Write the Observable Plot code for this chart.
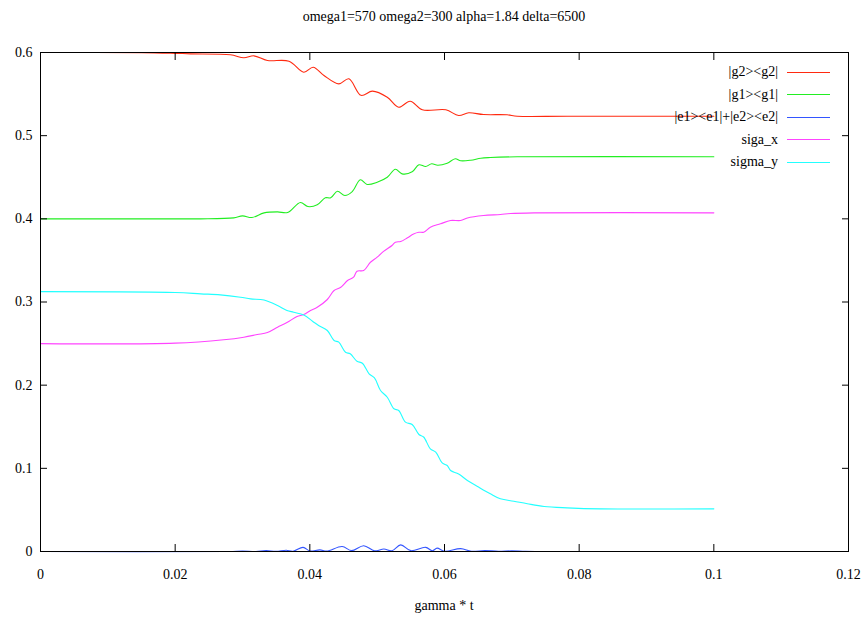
<!DOCTYPE html>
<html><head><meta charset="utf-8">
<script src="https://cdn.jsdelivr.net/npm/d3@7"></script>
<script src="https://cdn.jsdelivr.net/npm/@observablehq/plot@0.6"></script>
<style>
body{margin:0;background:#fff;}
#wrap{position:relative;width:865px;height:619px;font-family:"Liberation Serif","DejaVu Serif",serif;color:#000;}
#title{position:absolute;left:0;width:888px;top:9px;text-align:center;font-size:14px;}
#xlabel{position:absolute;left:0;width:888px;top:598px;text-align:center;font-size:14px;}
#legend{position:absolute;left:560px;top:62px;width:280px;font-size:14px;}
.row{position:absolute;right:0;height:20px;display:flex;align-items:center;}
.row span{display:block;text-align:right;}
.row i{display:block;width:43px;height:1px;margin-left:9px;margin-right:10px;}
svg{display:block;}
svg text{font-family:"Liberation Serif","DejaVu Serif",serif !important;}
</style></head>
<body><div id="wrap"><div id="chart"></div><div id="title"></div><div id="xlabel"></div><div id="legend"></div></div>
<script>
const titleText = "omega1=570 omega2=300 alpha=1.84 delta=6500";
const xLabel = "gamma * t";
const seriesNames = ["|g2><g2|", "|g1><g1|", "|e1><e1|+|e2><e2|", "siga_x", "sigma_y"];
const seriesColors = ["#ff2a10", "#22ee22", "#3355ff", "#ff44ff", "#22ffff"];
const xTicks = [0, 0.02, 0.04, 0.06, 0.08, 0.1, 0.12];
const yTicks = [0, 0.1, 0.2, 0.3, 0.4, 0.5, 0.6];

const g2T = [0, 0.015, 0.02, 0.0223, 0.0282, 0.0302, 0.0317, 0.0337, 0.0369, 0.0391, 0.0405, 0.0421, 0.0443, 0.0458, 0.0476, 0.0493, 0.0515, 0.0532, 0.0549, 0.0567, 0.0602, 0.0621, 0.0636, 0.0658, 0.0693, 0.0708, 0.0782, 0.1];
const g2V = [0.6, 0.5999, 0.599, 0.5984, 0.5972, 0.5936, 0.596, 0.5904, 0.5895, 0.5763, 0.5823, 0.5723, 0.5623, 0.5684, 0.5485, 0.5535, 0.5462, 0.5342, 0.5414, 0.5311, 0.5311, 0.5242, 0.5275, 0.5254, 0.5251, 0.5234, 0.5234, 0.5234];

const g1T = [0, 0.02, 0.0238, 0.0287, 0.03, 0.0314, 0.0332, 0.0352, 0.0367, 0.0386, 0.0397, 0.0411, 0.0423, 0.0431, 0.0441, 0.0452, 0.0463, 0.0475, 0.0485, 0.05, 0.0515, 0.0527, 0.0537, 0.0552, 0.0562, 0.0572, 0.0581, 0.059, 0.0604, 0.0616, 0.0624, 0.0639, 0.0654, 0.0668, 0.0708, 0.1];
const g1V = [0.4, 0.4, 0.4, 0.4012, 0.4036, 0.4016, 0.4072, 0.4084, 0.4076, 0.4197, 0.4148, 0.4169, 0.4253, 0.4253, 0.4332, 0.428, 0.4328, 0.4469, 0.4413, 0.444, 0.45, 0.4597, 0.4541, 0.4565, 0.465, 0.4629, 0.4662, 0.4645, 0.4669, 0.4722, 0.4698, 0.4705, 0.4729, 0.4737, 0.4746, 0.4746];

const eT = [0, 0.028, 0.03, 0.032, 0.0335, 0.035, 0.0365, 0.0375, 0.039, 0.04, 0.0415, 0.0425, 0.0448, 0.0462, 0.048, 0.0496, 0.051, 0.0522, 0.0535, 0.055, 0.0572, 0.0582, 0.0589, 0.06, 0.0624, 0.064, 0.066, 0.068, 0.07, 0.072, 0.075, 0.1];
const eV = [0, 0, 0.0005, 0, 0.001, 0.0002, 0.0015, 0.0003, 0.005, 0.0005, 0.002, 0.0005, 0.006, 0.001, 0.007, 0.0008, 0.003, 0.001, 0.008, 0.001, 0.005, 0.0008, 0.004, 0.0003, 0.0035, 0.0003, 0.0012, 0.0002, 0.0008, 0.0001, 0, 0];

const sxT = [0, 0.02, 0.0272, 0.0302, 0.0322, 0.0337, 0.0352, 0.0366, 0.0381, 0.0391, 0.0401, 0.0411, 0.0426, 0.0436, 0.0446, 0.0456, 0.0465, 0.047, 0.048, 0.049, 0.05, 0.051, 0.0522, 0.0527, 0.0535, 0.0545, 0.0554, 0.0562, 0.0569, 0.0579, 0.0594, 0.0609, 0.0624, 0.0634, 0.0658, 0.0683, 0.0698, 0.0733, 0.1];
const sxV = [0.25, 0.2505, 0.2546, 0.2577, 0.2609, 0.2633, 0.2697, 0.2753, 0.2826, 0.285, 0.2898, 0.2937, 0.303, 0.3138, 0.3178, 0.3258, 0.3298, 0.337, 0.3379, 0.3478, 0.3539, 0.3611, 0.3679, 0.3719, 0.3727, 0.3772, 0.3818, 0.3839, 0.3839, 0.3899, 0.394, 0.398, 0.398, 0.401, 0.404, 0.4052, 0.4064, 0.4072, 0.4072];

const syT = [0, 0.02, 0.0238, 0.0267, 0.0297, 0.0312, 0.0332, 0.0352, 0.0366, 0.0376, 0.0391, 0.0404, 0.0413, 0.0426, 0.0436, 0.0443, 0.0453, 0.046, 0.047, 0.0478, 0.0488, 0.0496, 0.0505, 0.0515, 0.0525, 0.0532, 0.0542, 0.0552, 0.0562, 0.0569, 0.0579, 0.0587, 0.0597, 0.0604, 0.0609, 0.0621, 0.0634, 0.0649, 0.0668, 0.0683, 0.0703, 0.0723, 0.0748, 0.0782, 0.0832, 0.1];
const syV = [0.3125, 0.3115, 0.3098, 0.3086, 0.3058, 0.3038, 0.3023, 0.2958, 0.2898, 0.2877, 0.2844, 0.2769, 0.2717, 0.2657, 0.2537, 0.2517, 0.2396, 0.2377, 0.2288, 0.2264, 0.2137, 0.2088, 0.1936, 0.1855, 0.1716, 0.1695, 0.1555, 0.1527, 0.1407, 0.1377, 0.1235, 0.1194, 0.1062, 0.1034, 0.0974, 0.0932, 0.0854, 0.0782, 0.0694, 0.0634, 0.0605, 0.0574, 0.0541, 0.0525, 0.0513, 0.0513];

const seriesT = [g2T, g1T, eT, sxT, syT];
const seriesV = [g2V, g1V, eV, sxV, syV];
const rows = [];
seriesNames.forEach((name, k) => seriesT[k].forEach((t, i) => rows.push({series: name, t, v: seriesV[k][i]})));

const fmt = d => String(+d.toFixed(2));
const chart = Plot.plot({
  width: 865, height: 619,
  marginTop: 52, marginBottom: 68, marginLeft: 40, marginRight: 17,
  style: {fontFamily: "Liberation Serif, DejaVu Serif, serif", fontSize: "14px", background: "#fff", color: "#000"},
  x: {domain: [0, 0.12]},
  y: {domain: [0, 0.6]},
  color: {domain: seriesNames, range: seriesColors},
  marks: [
    Plot.line(rows, {x: "t", y: "v", z: "series", stroke: "series", strokeWidth: 1.1, curve: "catmull-rom"}),
    Plot.frame({stroke: "#000", strokeWidth: 1}),
    Plot.axisX({ticks: xTicks, tickSize: 0, tickPadding: 18, tickFormat: fmt, label: null}),
    Plot.axisX({ticks: xTicks, tickSize: -7, tickFormat: () => "", label: null}),
    Plot.axisX({ticks: xTicks, anchor: "top", tickSize: -7, tickFormat: () => "", label: null}),
    Plot.axisY({ticks: yTicks, tickSize: 0, tickPadding: 8, tickFormat: fmt, label: null}),
    Plot.axisY({ticks: yTicks, tickSize: -7, tickFormat: () => "", label: null}),
    Plot.axisY({ticks: yTicks, anchor: "right", tickSize: -7, tickFormat: () => "", label: null})
  ]
});
document.getElementById("chart").appendChild(chart);
document.getElementById("title").textContent = titleText;
document.getElementById("xlabel").textContent = xLabel;
const legend = document.getElementById("legend");
seriesNames.forEach((name, k) => {
  const row = document.createElement("div");
  row.className = "row";
  row.style.top = (k * 22.6) + "px";
  const s = document.createElement("span");
  s.textContent = name;
  const line = document.createElement("i");
  line.style.background = seriesColors[k];
  row.appendChild(s); row.appendChild(line);
  legend.appendChild(row);
});
</script></body></html>
